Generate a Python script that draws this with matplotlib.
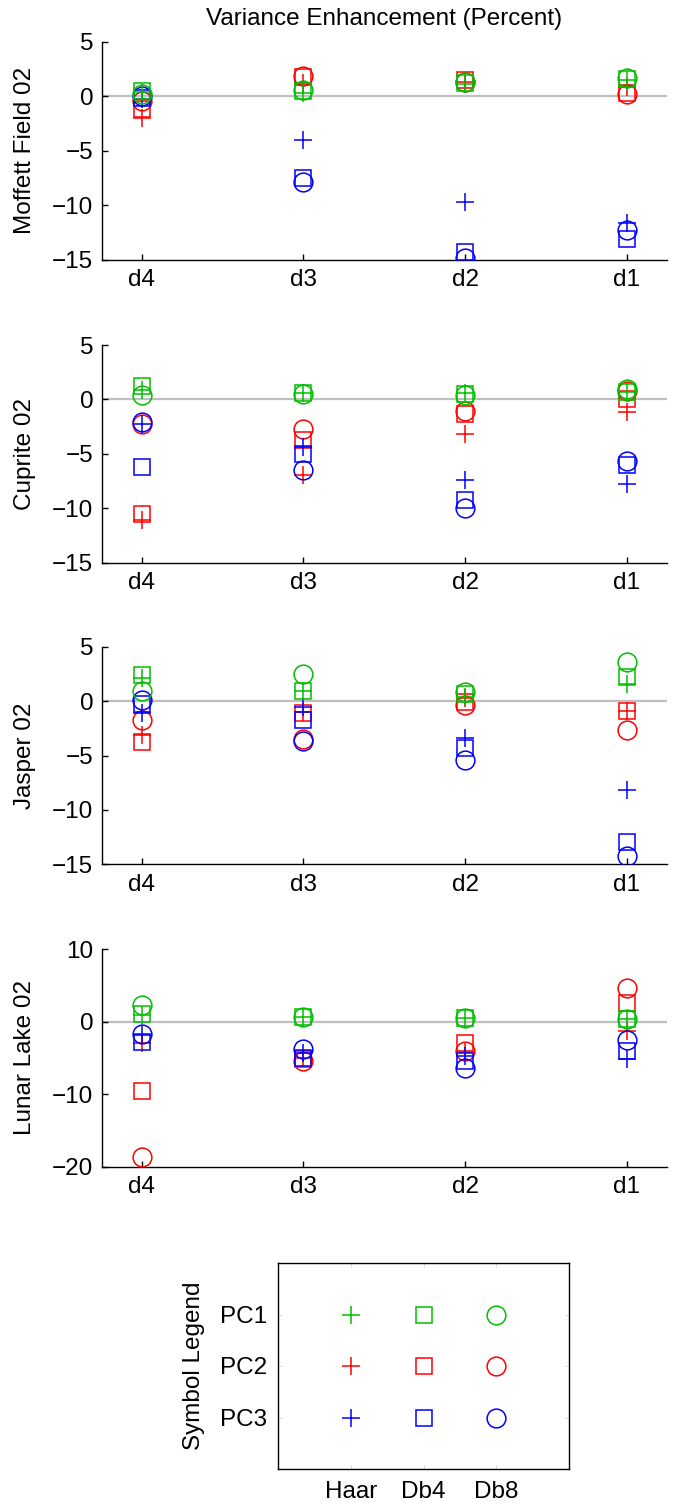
import matplotlib
matplotlib.use("Agg")
import matplotlib.pyplot as plt

plt.rcParams['font.family'] = ['Liberation Sans', 'DejaVu Sans']
plt.rcParams['font.size'] = 17.5

# Valori: righe = PC1, PC2, PC3 ; colonne = d4, d3, d2, d1
livelli = ['d4', 'd3', 'd2', 'd1']
pcs = ['PC1', 'PC2', 'PC3']
wavelets = ['Haar', 'Db4', 'Db8']

moffett_haar = [[0.4, 0.3, 1.1, 1.5], [-2.0, 1.2, 1.3, 0.9], [-0.2, -4.0, -9.7, -11.6]]
moffett_db4 = [[0.5, 0.5, 1.2, 1.6], [-1.2, 1.8, 1.5, 0.3], [-0.1, -7.5, -14.3, -13.1]]
moffett_db8 = [[0.2, 0.55, 1.3, 1.7], [-0.4, 1.9, 1.3, 0.2], [0.0, -7.9, -14.8, -12.3]]

cuprite_haar = [[0.9, 0.6, 0.6, 0.7], [-11.1, -6.9, -3.2, -1.2], [-2.3, -4.4, -7.4, -7.8]]
cuprite_db4 = [[1.2, 0.6, 0.5, 0.7], [-10.5, -3.7, -1.35, 0.0], [-6.2, -5.0, -9.2, -6.0]]
cuprite_db8 = [[0.4, 0.5, 0.4, 1.0], [-2.3, -2.7, -1.1, 0.8], [-2.1, -6.5, -10.0, -5.7]]

jasper_haar = [[2.1, 0.9, 0.4, 1.55], [-3.1, -1.0, 0.3, -0.9], [-1.1, -0.5, -3.4, -8.2]]
jasper_db4 = [[2.4, 0.9, 0.7, 2.2], [-3.8, -1.1, -0.1, -0.9], [-0.3, -1.7, -4.3, -12.9]]
jasper_db8 = [[0.9, 2.45, 0.85, 3.6], [-1.7, -3.5, -0.4, -2.65], [0.1, -3.7, -5.4, -14.2]]

lunar_haar = [[0.9, 0.6, 0.5, 0.4], [-2.9, -5.0, -4.2, -1.25], [-1.8, -4.3, -4.8, -5.15]]
lunar_db4 = [[1.0, 0.6, 0.5, 0.4], [-9.5, -5.1, -2.9, 2.6], [-2.8, -5.0, -5.5, -4.1]]
lunar_db8 = [[2.25, 0.6, 0.5, 0.3], [-18.6, -5.5, -4.1, 4.6], [-1.75, -3.8, -6.4, -2.5]]

dataset = [
    ("Moffett Field 02", [moffett_haar, moffett_db4, moffett_db8], (-15, 5), [-15, -10, -5, 0, 5]),
    ("Cuprite 02", [cuprite_haar, cuprite_db4, cuprite_db8], (-15, 5), [-15, -10, -5, 0, 5]),
    ("Jasper 02", [jasper_haar, jasper_db4, jasper_db8], (-15, 5), [-15, -10, -5, 0, 5]),
    ("Lunar Lake 02", [lunar_haar, lunar_db4, lunar_db8], (-20, 10), [-20, -10, 0, 10]),
]

colori = ['#00c000', '#ff0000', '#0000ff']
marker = ['+', 's', 'o']
msize = [13, 11, 13.5]

W, H = 686, 1506
fig = plt.figure(figsize=(W / 100, H / 100), dpi=100)

def box(x0, y0, x1, y1):
    # coordinate in pixel (dall'alto) -> frazioni della figura
    return [x0 / W, 1 - y1 / H, (x1 - x0) / W, (y1 - y0) / H]

top_px = [42, 345, 646.7, 949]
x_pos = [1, 2, 3, 4]

for i, (nome, serie, ylim, yticks) in enumerate(dataset):
    ax = fig.add_axes(box(101.5, top_px[i], 667, top_px[i] + 217.7))
    ax.axhline(0, color='#bfbfbf', linewidth=1.6, zorder=1)
    for p in [1, 2, 0]:
        for w in range(3):
            ax.plot(x_pos, serie[w][p], linestyle='none', marker=marker[w],
                    markersize=msize[w], markerfacecolor='none',
                    markeredgecolor=colori[p], markeredgewidth=1.1, zorder=3)
    ax.set_xlim(0.75, 4.25)
    ax.set_ylim(*ylim)
    ax.set_yticks(yticks)
    ax.set_xticks(x_pos)
    ax.set_xticklabels(livelli)
    ax.spines['top'].set_visible(False)
    ax.spines['right'].set_visible(False)
    ax.spines['left'].set_linewidth(1.0)
    ax.spines['bottom'].set_linewidth(1.0)
    ax.tick_params(direction='in', length=4, width=1.0, labelsize=17.5)
    ax.tick_params(axis='y', pad=6)
    ax.tick_params(axis='x', pad=7)
    ax.set_ylabel(nome, fontsize=17.5)
    ax.yaxis.set_label_coords(-0.115, 0.5)
    if i == 0:
        ax.set_title("Variance Enhancement (Percent)", fontsize=17.5, pad=12)

# Legenda dei simboli
lg = fig.add_axes(box(278, 1263, 569, 1469))
for p in range(3):
    for w in range(3):
        lg.plot(w + 1, 3 - p, linestyle='none', marker=marker[w],
                markersize=msize[w], markerfacecolor='none',
                markeredgecolor=colori[p], markeredgewidth=1.1)
lg.set_xlim(0, 4)
lg.set_ylim(0, 4)
lg.set_xticks([1, 2, 3])
lg.set_xticklabels(wavelets)
lg.set_yticks([1, 2, 3])
lg.set_yticklabels(pcs[::-1])
for s in lg.spines.values():
    s.set_linewidth(1.0)
lg.tick_params(direction='in', length=3, width=0.5, labelsize=17.5,
               top=True, right=True, color='#cccccc')
lg.tick_params(axis='y', pad=8)
lg.tick_params(axis='x', pad=9)
lg.set_ylabel("Symbol Legend", fontsize=17.5)
lg.yaxis.set_label_coords(-0.25, 0.5)

fig.savefig("out.png", dpi=100)
